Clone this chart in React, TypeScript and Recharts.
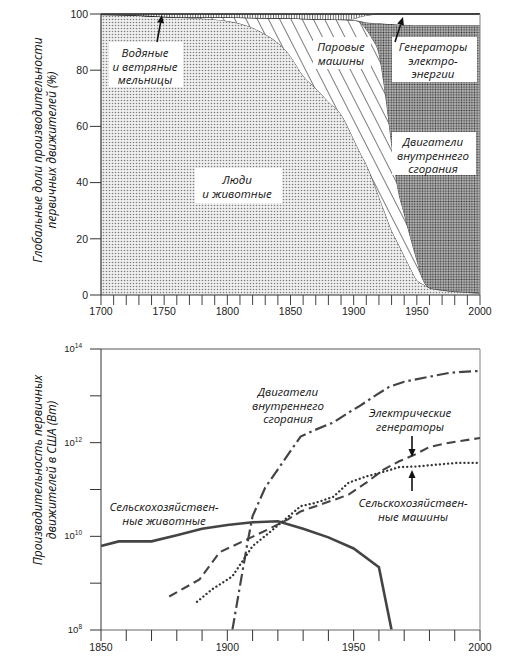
import { AreaChart, Area, LineChart, Line, XAxis, YAxis, ReferenceLine } from 'recharts';

// --- global shares of prime movers (%) ---
const shareYears = [1700, 1725, 1750, 1775, 1800, 1825, 1850, 1860, 1870, 1880, 1890, 1900, 1905, 1910, 1915, 1920, 1925, 1930, 1935, 1940, 1945, 1950, 1955, 1960, 1970, 1980, 1990, 2000];
const humansShare = [99.8, 99.6, 99.0, 98.5, 97.5, 94.0, 85.0, 78.0, 73.5, 68.8, 64.3, 55.5, 50.8, 46.5, 41.0, 35.0, 29.0, 23.0, 18.5, 14.0, 9.5, 5.3, 3.8, 2.5, 1.7, 1.2, 0.9, 0.6];
const steamShare = [0, 0, 0, 0.3, 1.3, 4.6, 13.5, 20.3, 24.7, 29.3, 33.7, 42.3, 46.2, 48.0, 50.0, 51.0, 43.0, 31.0, 19.5, 15.0, 11.0, 7.2, 1.5, 0.1, 0.1, 0.1, 0.1, 0.2];
const iceShare = [0, 0, 0, 0, 0, 0, 0, 0, 0, 0, 0, 0, 0.5, 2.5, 5.8, 10.7, 24.5, 42.4, 58.3, 67.2, 75.6, 83.5, 90.7, 93.4, 94.2, 94.7, 95.0, 95.2];
const electricShare = [0, 0, 0, 0, 0, 0, 0, 0, 0, 0, 0, 0.5, 1.5, 2.5, 3.0, 3.3, 3.5, 3.6, 3.7, 3.8, 3.9, 4.0, 4.0, 4.0, 4.0, 4.0, 4.0, 4.0];
const millShare = [0.2, 0.4, 1.0, 1.2, 1.2, 1.4, 1.5, 1.7, 1.8, 1.9, 2.0, 1.7, 1.0, 0.5, 0.2, 0, 0, 0, 0, 0, 0, 0, 0, 0, 0, 0, 0, 0];

const shareTicksX = [1700, 1710, 1720, 1730, 1740, 1750, 1760, 1770, 1780, 1790, 1800, 1810, 1820, 1830, 1840, 1850, 1860, 1870, 1880, 1890, 1900, 1910, 1920, 1930, 1940, 1950, 1960, 1970, 1980, 1990, 2000];
const shareTicksY = [0, 20, 40, 60, 80, 100];

// --- US prime mover capacity (W), lower panel ---
const livestockYears = [1850, 1857, 1870, 1880, 1890, 1900, 1910, 1920, 1930, 1940, 1950, 1960, 1965];
const livestockPower = [6.2e9, 7.8e9, 7.8e9, 1.05e10, 1.45e10, 1.75e10, 2.0e10, 2.1e10, 1.45e10, 9.5e9, 5.5e9, 2.2e9, 1e8];
const engineYears = [1902, 1905, 1908, 1910, 1915, 1920, 1929, 1935, 1942, 1948, 1952, 1959, 1964, 1970, 1979, 1988, 1993, 2000];
const enginePower = [1e8, 8.7e8, 7.4e9, 2.7e10, 1.1e11, 2.7e11, 1.35e12, 1.9e12, 2.7e12, 4.4e12, 5.9e12, 1.05e13, 1.55e13, 2.0e13, 2.5e13, 3.1e13, 3.25e13, 3.4e13];
const generatorYears = [1877, 1889, 1897, 1908, 1916, 1924, 1929, 1935, 1943, 1948, 1955, 1962, 1968, 1974, 1980, 1988, 2000];
const generatorPower = [5.2e8, 1.2e9, 4.6e9, 8.7e9, 1.4e10, 2.3e10, 3.4e10, 4.4e10, 6.2e10, 7.8e10, 1.4e11, 2.7e11, 4e11, 5.5e11, 8.1e11, 1e12, 1.26e12];
const machineryYears = [1888, 1894, 1902, 1910, 1917, 1922, 1929, 1935, 1942, 1948, 1955, 1962, 1968, 1975, 1983, 1991, 2000];
const machineryPower = [4e8, 7.4e8, 1.4e9, 6.2e9, 1.25e10, 2.1e10, 4.4e10, 5.2e10, 7e10, 1.4e11, 1.9e11, 2.4e11, 3e11, 3.1e11, 3.4e11, 3.7e11, 3.7e11];

const powerTicksX = [1850, 1860, 1870, 1880, 1890, 1900, 1910, 1920, 1930, 1940, 1950, 1960, 1970, 1980, 1990, 2000];
const powerTicksY = [1e8, 1e9, 1e10, 1e11, 1e12, 1e13, 1e14];

const shareData = shareYears.map((year, i) => ({
  year,
  humans: humansShare[i],
  steam: steamShare[i],
  ice: iceShare[i],
  electric: electricShare[i],
  mills: millShare[i],
}));

const toPoints = (years: number[], values: number[]) => years.map((year, i) => ({ year, value: values[i] }));

const TICK_FONT = '"Liberation Sans", Arial, sans-serif';
const LABEL_FONT = '"Open Sans", "Noto Sans", sans-serif';

const YearTick = ({ x, y, payload }: any) => {
  if (payload.value % 50 !== 0) return <g />;
  return (
    <text x={x} y={y + 8} textAnchor="middle" fontSize={10.5} fontFamily={TICK_FONT} fill="#222">
      {payload.value}
    </text>
  );
};

const PowerTick = ({ x, y, payload }: any) => {
  const exp = Math.round(Math.log10(payload.value));
  if (exp % 2 !== 0) return <g />;
  return (
    <text x={x - 6} y={y + 3} textAnchor="end" fontSize={9.5} fontFamily={TICK_FONT} fill="#222">
      10<tspan fontSize={6.5} dy={-4}>{exp}</tspan>
    </text>
  );
};

const Arrow = ({ x1, y1, x2, y2 }: { x1: number; y1: number; x2: number; y2: number }) => {
  const a = Math.atan2(y2 - y1, x2 - x1);
  const len = 8;
  const w = 3.5;
  const bx = x2 - len * Math.cos(a);
  const by = y2 - len * Math.sin(a);
  const px = -Math.sin(a) * w;
  const py = Math.cos(a) * w;
  return (
    <g>
      <line x1={x1} y1={y1} x2={bx} y2={by} stroke="#111" strokeWidth={1.6} />
      <polygon points={`${x2},${y2} ${bx + px},${by + py} ${bx - px},${by - py}`} fill="#111" />
    </g>
  );
};

// one text element per line, so lines never share a box
const Note = ({ x, y, lines, box }: { x: number; y: number; lines: string[]; box?: [number, number, number, number] }) => (
  <g>
    {box && <rect x={box[0]} y={box[1]} width={box[2]} height={box[3]} fill="#fff" />}
    {lines.map((l, i) => (
      <text key={i} x={x} y={y + i * 13.5} textAnchor="middle" fontSize={11.5} fontStyle="italic" fontFamily={LABEL_FONT} fill="#111">
        {l}
      </text>
    ))}
  </g>
);

const App = () => {
  return (
    <div style={{ position: 'absolute', left: 0, top: 0, width: 518, height: 663, background: '#fff' }}>
      <svg width={0} height={0} style={{ position: 'absolute' }}>
        <defs>
          <pattern id="humansDots" width={3} height={3} patternUnits="userSpaceOnUse">
            <rect width={3} height={3} fill="#f0f0f0" />
            <circle cx={1.5} cy={1.5} r={0.8} fill="#808080" />
          </pattern>
          <pattern id="iceDots" width={2.6} height={2.6} patternUnits="userSpaceOnUse">
            <rect width={2.6} height={2.6} fill="#b8b8b8" />
            <circle cx={1.3} cy={1.3} r={0.85} fill="#333" />
          </pattern>
          <pattern id="steamHatch" width={10} height={10} patternUnits="userSpaceOnUse" patternTransform="rotate(-27)">
            <rect width={10} height={10} fill="#fff" />
            <line x1={0} y1={0} x2={0} y2={10} stroke="#111" strokeWidth={1.1} />
          </pattern>
          <pattern id="millHatch" width={2.6} height={4} patternUnits="userSpaceOnUse">
            <rect width={2.6} height={4} fill="#fff" />
            <line x1={0.5} y1={0} x2={0.5} y2={4} stroke="#333" strokeWidth={0.8} />
          </pattern>
        </defs>
      </svg>

      <div style={{ position: 'absolute', left: 0, top: 0 }}>
        <AreaChart width={518} height={330} data={shareData} margin={{ top: 14, right: 38, left: 61, bottom: 0 }}>
          <XAxis
            dataKey="year"
            type="number"
            domain={[1700, 2000]}
            ticks={shareTicksX}
            interval={0}
            height={35}
            tickSize={10}
            tick={<YearTick />}
            axisLine={{ stroke: '#333', strokeWidth: 1.2 }}
            tickLine={{ stroke: '#444' }}
          />
          <YAxis
            type="number"
            domain={[0, 100]}
            ticks={shareTicksY}
            width={40}
            tickSize={11}
            tick={{ fontSize: 10.5, fontFamily: TICK_FONT, fill: '#222' }}
            axisLine={{ stroke: '#333', strokeWidth: 1.2 }}
            tickLine={{ stroke: '#333' }}
          />
          <Area type="monotone" dataKey="humans" stackId="s" fill="url(#humansDots)" fillOpacity={1} stroke="#222" strokeWidth={0.8} isAnimationActive={false} />
          <Area type="monotone" dataKey="steam" stackId="s" fill="url(#steamHatch)" fillOpacity={1} stroke="#222" strokeWidth={0.8} isAnimationActive={false} />
          <Area type="monotone" dataKey="ice" stackId="s" fill="url(#iceDots)" fillOpacity={1} stroke="#222" strokeWidth={0.8} isAnimationActive={false} />
          <Area type="monotone" dataKey="electric" stackId="s" fill="#fff" fillOpacity={1} stroke="#222" strokeWidth={0.8} isAnimationActive={false} />
          <Area type="monotone" dataKey="mills" stackId="s" fill="url(#millHatch)" fillOpacity={1} stroke="#222" strokeWidth={0.8} isAnimationActive={false} />
          <ReferenceLine y={100} stroke="#333" strokeWidth={1.4} />
          <ReferenceLine x={2000} stroke="#999" strokeWidth={1.2} />
        </AreaChart>
      </div>

      <div style={{ position: 'absolute', left: 0, top: 330 }}>
        <LineChart width={518} height={333} margin={{ top: 19, right: 38, left: 61, bottom: 0 }}>
          <XAxis
            dataKey="year"
            type="number"
            domain={[1850, 2000]}
            ticks={powerTicksX}
            interval={0}
            height={33}
            tickSize={11}
            tick={<YearTick />}
            axisLine={{ stroke: '#999', strokeWidth: 1.6 }}
            tickLine={{ stroke: '#333' }}
            allowDuplicatedCategory={false}
          />
          <YAxis
            type="number"
            scale="log"
            domain={[1e8, 1e14]}
            ticks={powerTicksY}
            interval={0}
            allowDataOverflow
            width={40}
            tickSize={11}
            tick={<PowerTick />}
            axisLine={{ stroke: '#555', strokeWidth: 1.2 }}
            tickLine={{ stroke: '#333' }}
          />
          <ReferenceLine y={1e14} stroke="#555" strokeWidth={1.2} />
          <ReferenceLine x={2000} stroke="#999" strokeWidth={1.2} />
          <Line data={toPoints(livestockYears, livestockPower)} dataKey="value" type="linear" stroke="#444" strokeWidth={2.6} dot={false} isAnimationActive={false} />
          <Line data={toPoints(engineYears, enginePower)} dataKey="value" type="linear" stroke="#444" strokeWidth={2.2} strokeDasharray="12 4 2.5 4" dot={false} isAnimationActive={false} />
          <Line data={toPoints(generatorYears, generatorPower)} dataKey="value" type="linear" stroke="#444" strokeWidth={2.1} strokeDasharray="9 5" dot={false} isAnimationActive={false} />
          <Line data={toPoints(machineryYears, machineryPower)} dataKey="value" type="linear" stroke="#333" strokeWidth={2.3} strokeDasharray="0.1 4" strokeLinecap="round" dot={false} isAnimationActive={false} />
        </LineChart>
      </div>

      <svg width={518} height={663} style={{ position: 'absolute', left: 0, top: 0, pointerEvents: 'none' }}>
        {/* upper panel notes */}
        <Note x={145} y={57} lines={['Водяные', 'и ветряные', 'мельницы']} box={[109, 42, 74, 45]} />
        <Arrow x1={157} y1={42} x2={162} y2={15} />
        <Note x={237} y={184} lines={['Люди', 'и животные']} box={[195, 168, 87, 35]} />
        <Note x={341} y={51} lines={['Паровые', 'машины']} box={[313, 37, 58, 32]} />
        <Note x={433} y={51} lines={['Генераторы', 'электро-', 'энергии']} box={[392, 37, 85, 45]} />
        <Arrow x1={395} y1={42} x2={403} y2={17} />
        <Note x={433} y={146} lines={['Двигатели', 'внутреннего', 'сгорания']} box={[392, 132, 84, 43]} />
        <text transform="translate(42,150) rotate(-90)" textAnchor="middle" fontSize={12} fontStyle="italic" fontFamily={LABEL_FONT} fill="#111">
          Глобальные доли производительности
        </text>
        <text transform="translate(56,150) rotate(-90)" textAnchor="middle" fontSize={12} fontStyle="italic" fontFamily={LABEL_FONT} fill="#111">
          первичных движителей (%)
        </text>

        {/* lower panel notes */}
        <Note x={164} y={511} lines={['Сельскохозяйствен-', 'ные животные']} />
        <Note x={288} y={396} lines={['Двигатели', 'внутреннего', 'сгорания']} />
        <Note x={410} y={417} lines={['Электрические', 'генераторы']} />
        <Arrow x1={412} y1={436} x2={412} y2={457} />
        <Arrow x1={412} y1={491} x2={412} y2={470} />
        <Note x={413} y={507} lines={['Сельскохозяйствен-', 'ные машины']} />
        <text transform="translate(42,470) rotate(-90)" textAnchor="middle" fontSize={12} fontStyle="italic" fontFamily={LABEL_FONT} fill="#111">
          Производительность первичных
        </text>
        <text transform="translate(56,470) rotate(-90)" textAnchor="middle" fontSize={12} fontStyle="italic" fontFamily={LABEL_FONT} fill="#111">
          движителей в США (Вт)
        </text>
      </svg>
    </div>
  );
};

export default App;
